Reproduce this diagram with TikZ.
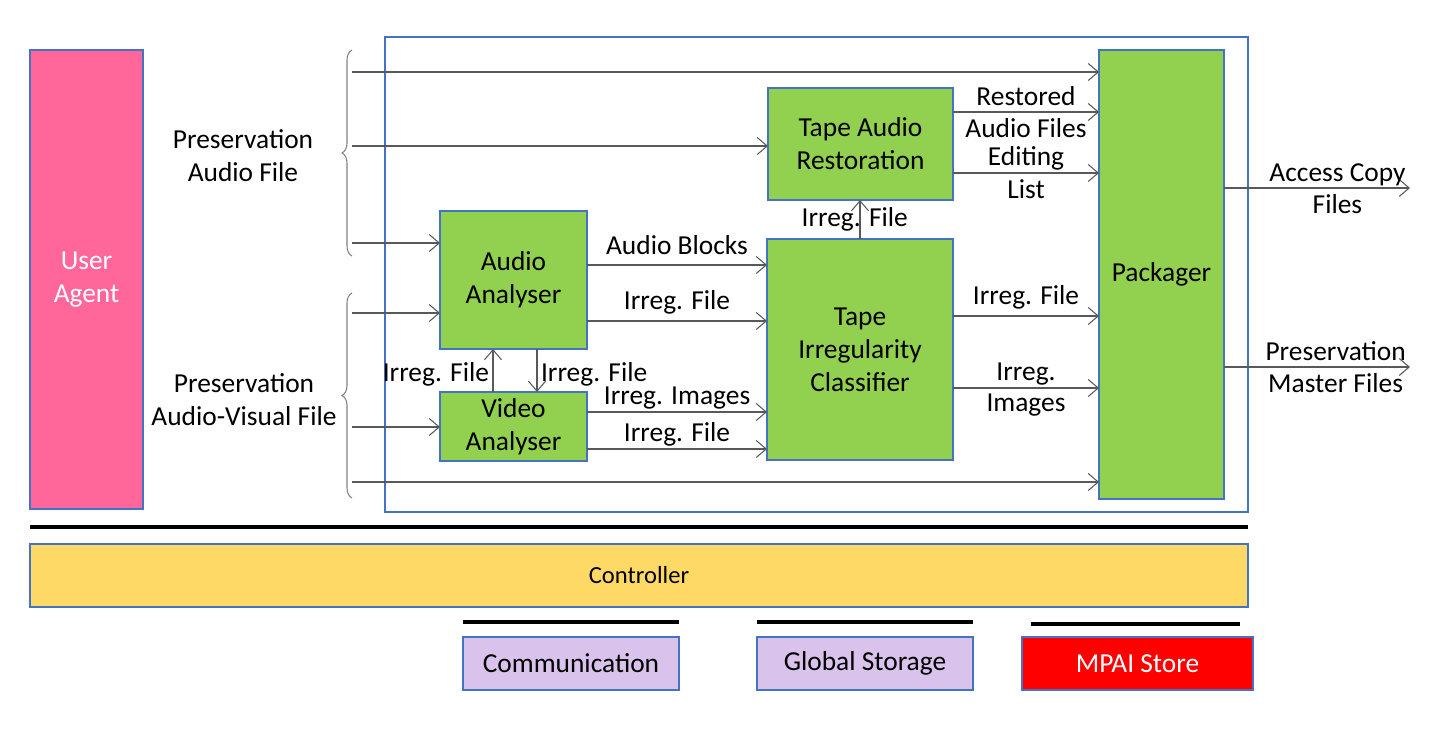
\documentclass[tikz,border=0pt]{standalone}
\usepackage{fontspec}
\setmainfont{Carlito}
\usepackage{tikz}
\usetikzlibrary{positioning,arrows.meta,decorations.pathreplacing}

\definecolor{boxgreen}{HTML}{92D050}
\definecolor{boxblue}{HTML}{4472C4}
\definecolor{agentpink}{HTML}{FF6699}
\definecolor{ctlyellow}{HTML}{FFD966}
\definecolor{lilac}{HTML}{D9C3EC}
\definecolor{wiregray}{HTML}{595959}

\begin{document}
\begin{tikzpicture}[x=0.02cm,y=-0.02cm,
  font=\fontsize{15.6}{18.7}\selectfont,
  blk/.style={draw=boxblue, line width=0.9pt, fill=boxgreen, align=center, outer sep=0pt, inner sep=0pt},
  wire/.style={draw=wiregray, line width=0.6pt, -{Straight Barb[length=2mm,width=3.4mm]}},
  brc/.style={draw=gray, line width=0.6pt, decorate, decoration={brace, amplitude=0.2cm}},
  low/.style={yshift=-2.2pt},
  bus/.style={line width=1.8pt}]

  \useasboundingbox (0,0) rectangle (1429,729);

  % User agent and AIW frame
  \node[blk, fill=agentpink, text=white, minimum width=2.26cm, minimum height=9.18cm] (ua) at (86.5,279.5) {User\\Agent};
  \draw[boxblue, line width=0.9pt] (385,37) rectangle (1248,512);

  % Processing modules
  \node[blk, minimum width=2.94cm, minimum height=2.76cm] (aa) at (513.5,280) {Audio\\Analyser};
  \node[blk, minimum width=2.94cm, minimum height=1.38cm] (va) at (513.5,426.5) {Video\\Analyser};
  \node[blk, minimum width=3.70cm, minimum height=2.24cm] (tar) at (860.5,144) {Tape Audio\\Restoration};
  \node[blk, minimum width=3.72cm, minimum height=4.42cm] (tic) at (860,349.5) {Tape\\Irregularity\\Classifier};
  \node[blk, minimum width=2.50cm, minimum height=8.98cm] (pk) at (1161.5,274.5) {Packager};

  % Inputs
  \draw[brc] (352,256) -- (352,50);
  \draw[brc] (352,498) -- (352,293);
  \node[align=center] (paf) at (243,156) {Preservation\\Audio File};
  \node[align=center] (pavf) at (244,400) {Preservation\\Audio-Visual File};
  \foreach \n/\y in {in1/72,in2/146,in3/243,in4/313,in5/427,in6/482}
    \coordinate (\n) at (352,\y);
  \draw[wire] (in1) -- (pk.west |- in1);
  \draw[wire] (in2) -- (tar.west |- in2);
  \draw[wire] (in3) -- (aa.west |- in3);
  \draw[wire] (in4) -- (aa.west |- in4);
  \draw[wire] (in5) -- (va.west |- in5);
  \draw[wire] (in6) -- (pk.west |- in6);

  % Between modules
  \draw[wire] (aa.east |- 0,265) -- node[above, yshift=2.4pt]{Audio Blocks} (tic.west |- 0,265);
  \draw[wire] (aa.east |- 0,321) -- node[above]{Irreg. File} (tic.west |- 0,321);
  \draw[wire] (va.east |- 0,412) -- node[above, low]{Irreg. Images} (tic.west |- 0,412);
  \draw[wire] (va.east |- 0,449) -- node[above, low]{Irreg. File} (tic.west |- 0,449);
  \draw[wire] (va.north -| 493,0) -- node[left, inner sep=2pt, low]{Irreg. File} (aa.south -| 493,0);
  \draw[wire] (aa.south -| 537,0) -- node[right, inner sep=2pt, low]{Irreg. File} (va.north -| 537,0);
  \draw[wire] (tic.north) -- node[xshift=-3pt]{Irreg. File} (tic.north |- tar.south);
  \draw[wire] (tar.east |- 0,112) -- node[above]{Restored} node[below]{Audio Files} (pk.west |- 0,112);
  \draw[wire] (tar.east |- 0,173) -- node[above, low]{Editing} node[below]{List} (pk.west |- 0,173);
  \draw[wire] (tic.east |- 0,316) -- node[above]{Irreg. File} (pk.west |- 0,316);
  \draw[wire] (tic.east |- 0,388) -- node[above, low]{Irreg.} node[below]{Images} (pk.west |- 0,388);

  % Outputs
  \coordinate (acf) at (1410,188);
  \coordinate (pmf) at (1410,367);
  \draw[wire] (pk.east |- acf) -- node[pos=0.61, above, low]{Access Copy} node[pos=0.61, below]{Files} (acf);
  \draw[wire] (pk.east |- pmf) -- node[pos=0.6, above]{Preservation} node[pos=0.6, below]{Master Files} (pmf);

  % Controller and resources
  \node[blk, fill=ctlyellow, minimum width=24.36cm, minimum height=1.26cm, font=\fontsize{14}{17}\selectfont] (ctl) at (639,575.5) {Controller};
  \node[blk, fill=lilac, minimum width=4.32cm, minimum height=1.06cm] (com) at (571,663.5) {Communication};
  \node[blk, fill=lilac, minimum width=4.32cm, minimum height=1.06cm] (gs) at (865,663.5) {Global Storage};
  \node[blk, fill=red, text=white, minimum width=4.62cm, minimum height=1.06cm] (mpai) at (1137.5,663.5) {MPAI Store};
  \draw[bus, line width=2.3pt] ([yshift=0.34cm]ctl.north west) -- ([yshift=0.34cm]ctl.north east);
  \draw[bus] ([yshift=0.3cm]com.north west) -- ([yshift=0.3cm]com.north east);
  \draw[bus] ([yshift=0.3cm]gs.north west) -- ([yshift=0.3cm]gs.north east);
  \draw[bus] ([xshift=0.18cm,yshift=0.26cm]mpai.north west) -- ([xshift=-0.26cm,yshift=0.26cm]mpai.north east);
\end{tikzpicture}
\end{document}
